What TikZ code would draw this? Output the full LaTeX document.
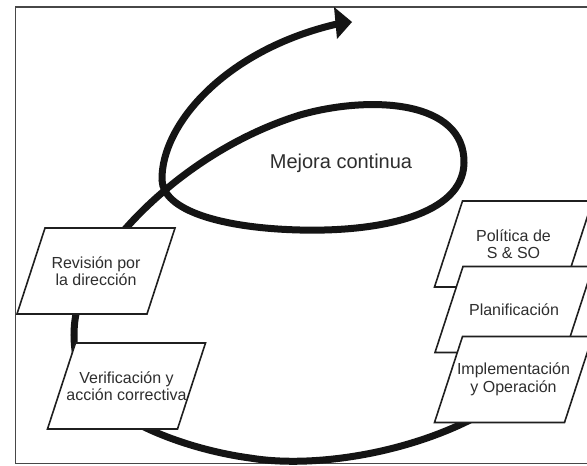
\documentclass[tikz,border=0pt]{standalone}
\usepackage{fontspec}
\setmainfont{Liberation Sans}
\begin{document}
\begin{tikzpicture}[x=1pt,y=-1pt,
  frameline/.style={draw=black!72,line width=1.3pt},
  loopline/.style={draw=black!92,line width=7pt},
  boxline/.style={draw=black!88,fill=white,line width=1.6pt,line join=miter},
  boxtext/.style={text=black!82,align=center,inner sep=0pt,
    font=\fontsize{16}{17.5}\selectfont},
  titletext/.style={text=black!82,inner sep=0pt,font=\fontsize{20}{24}\selectfont}]
\useasboundingbox (0,0) rectangle (587,466);
\clip (0,0) rectangle (587,466);
\fill[white] (0,0) rectangle (587,466);

% outer frame (its right side lies past the page edge)
\draw[frameline] (15.5,7) rectangle (620,463.5);

% the improvement spiral, drawn first so the step boxes cover it
\draw[loopline,line cap=butt]
  (470,420) .. controls (400,455) and (310,468) .. (250,458)
            .. controls (190,450) and (100,420) .. (80,370)
            .. controls (72,350) and (72,320) .. (80,300)
            .. controls (88,280) and (110,245) .. (127,227)
            .. controls (160,190) and (220,140) .. (300,115)
            .. controls (370,95) and (465,100) .. (464,163)
            .. controls (463,215) and (380,232) .. (300,230)
            .. controls (220,228) and (163,210) .. (162,180)
            .. controls (161,125) and (225,50) .. (337,24);
\fill[black!92] (334,7) -- (352,22) -- (337,39) -- cycle;

\node[titletext] (mejora) at (341,163) {Mejora continua};

% slanted step box: name, centre x, centre y, text
\newcommand\stepbox[4]{%
  \draw[boxline] (#2-51,#3-43) -- (#2+79,#3-43) -- (#2+51,#3+43) -- (#2-79,#3+43) -- cycle;
  \node[boxtext] (#1) at (#2,#3) {#4};}

\stepbox{revision}{96}{271}{Revisión por\\la dirección}
\stepbox{verificacion}{126.5}{386}{Verificación y\\acción correctiva}
\stepbox{politica}{513.5}{244}{Política de\\S \& SO}
\stepbox{planificacion}{514}{309.5}{Planificación}
\stepbox{implementacion}{513.5}{379.5}{Implementación\\y Operación}
\end{tikzpicture}
\end{document}
